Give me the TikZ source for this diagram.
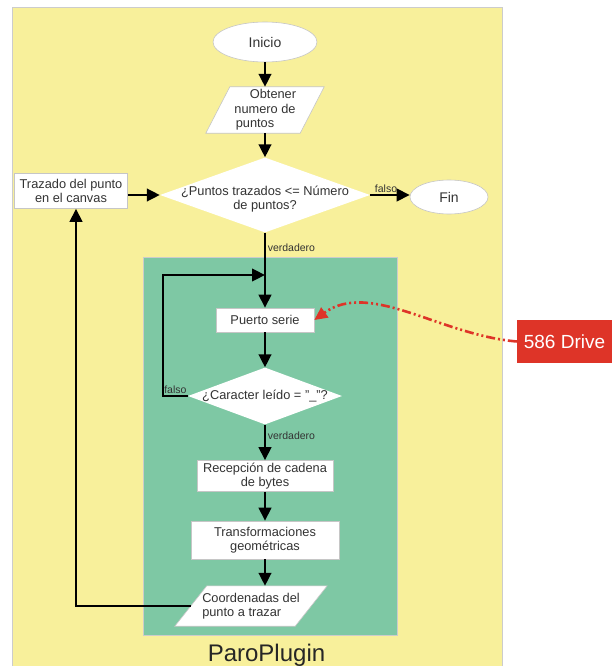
\documentclass[tikz,border=0pt]{standalone}
\usepackage{fontspec}
\setmainfont{Liberation Sans}
\usepackage{tikz}
\usetikzlibrary{arrows.meta,calc,positioning,shapes.geometric,backgrounds}
\definecolor{fondo}{RGB}{248,240,155}
\definecolor{verde}{RGB}{126,200,164}
\definecolor{rojo}{RGB}{222,52,40}
\definecolor{texto}{RGB}{51,51,51}
\tikzset{
    mytext/.style={text=texto,align=center,font=\fontsize{12.8}{14.4}\selectfont},
    mybox/.style={mytext,rectangle,draw=gray!45,line width=0.6pt,fill=white,inner sep=1pt},
    myterm/.style={mytext,ellipse,draw=gray!45,line width=0.6pt,fill=white,inner sep=0pt,
        font=\fontsize{14}{16}\selectfont},
    mydecision/.style={diamond,fill=white,inner sep=0pt},
    myio/.style={mytext,rectangle,inner sep=0pt},
    myfill/.style={draw=gray!45,line width=0.6pt,fill=white},
    myarrow/.style={line width=2.5pt,draw=black,-{Triangle[length=13pt,width=12.5pt]}},
    mylabel/.style={text=texto,inner sep=1.5pt,font=\fontsize{10.5}{12}\selectfont},
    mylink/.style={line width=2.6pt,draw=rojo,
        dash pattern=on 9pt off 3pt on 2pt off 3pt on 2pt off 3pt,
        -{Triangle[length=13pt,width=12pt]}}
}

\begin{document}
\begin{tikzpicture}[x=1pt,y=-1pt]
  \useasboundingbox (0,0) rectangle (612,666);

  % nodos del diagrama
  \node[myterm,minimum width=104pt,minimum height=40pt] (inicio) at (265,42) {Inicio};
  \node[myio,minimum width=94pt,minimum height=46pt] (obtener) at (265,110)
    {\hspace*{16pt}Obtener\\numero de\\puntos\hspace*{20pt}};
  \node[mydecision,minimum width=210pt,minimum height=75pt,
    label={[mytext,yshift=-4pt]center:{¿Puntos trazados <= Número\\de puntos?}}]
    (puntos) at (265,195) {};
  \node[mybox,minimum width=113pt,minimum height=35pt] (trazado) at (71,191)
    {Trazado del punto\\en el canvas};
  \node[myterm,minimum width=78pt,minimum height=34pt] (fin) at (449,197) {Fin};

  \node[mybox,minimum width=98pt,minimum height=24pt] (puerto) at (265,320) {Puerto serie};
  \node[mydecision,minimum width=154pt,minimum height=57pt,
    label={[mytext]center:{¿Caracter leído = "\_"?}}]
    (caracter) at (265,396) {};
  \node[mybox,minimum width=136pt,minimum height=31pt] (recepcion) at (265,476)
    {Recepción de cadena\\de bytes};
  \node[mybox,minimum width=148pt,minimum height=38pt] (transf) at (265,540)
    {Transformaciones\\geométricas};
  \node[myio,minimum width=120pt,minimum height=40pt,align=left] (coord) at (251,606)
    {Coordenadas del\\punto a trazar};

  \node[anchor=base,text=black!85,font=\fontsize{24}{28}\selectfont] (paro) at (266.5,661) {ParoPlugin};
  \node[fill=rojo,text=white,inner sep=0pt,minimum width=95pt,minimum height=43pt,
    font=\fontsize{19}{22}\selectfont] (drive) at (564.5,341.5) {586 Drive};

  % fondos y paralelogramos
  \begin{scope}[on background layer]
    \draw[draw=gray!40,fill=fondo] (12,7) rectangle (502,667);
    \draw[draw=gray!40,fill=verde] (143,257) rectangle (397,635);
    \draw[myfill] ($(obtener.north west)+(12,0)$) -- ($(obtener.north east)+(12,0)$)
      -- ($(obtener.south east)+(-12,0)$) -- ($(obtener.south west)+(-12,0)$) -- cycle;
    \draw[myfill] ($(coord.north west)+(16,0)$) -- ($(coord.north east)+(16,0)$)
      -- ($(coord.south east)+(-16,0)$) -- ($(coord.south west)+(-16,0)$) -- cycle;
  \end{scope}

  % conexiones
  \draw[myarrow] (inicio) -- (obtener);
  \draw[myarrow] (obtener) -- (puntos);
  \draw[myarrow] (trazado.east |- puntos.west) -- (puntos.west);
  \draw[myarrow] (puntos.east) -- node[mylabel,above,pos=0.4] {falso} (puntos.east -| fin.west);
  \draw[myarrow] (puntos.south) -- node[mylabel,right,pos=0.2] {verdadero} (puerto.north);

  \coordinate (bucle) at (163,275);
  \draw[myarrow] (caracter.west) -- node[mylabel,above] {falso} (caracter.west -| bucle)
    -- (bucle) -- (bucle -| puerto.north);
  \draw[myarrow] (puerto) -- (caracter);
  \draw[myarrow] (caracter.south) -- node[mylabel,right,pos=0.32] {verdadero} (recepcion.north);
  \draw[myarrow] (recepcion) -- (transf);
  \draw[myarrow] (transf.south) -- (transf.south |- coord.north);

  \coordinate (retorno) at (76,606);
  \draw[myarrow] (coord.west) -- (retorno) -- (retorno |- trazado.south);

  % enlace con el driver
  \draw[mylink] (drive.west) .. controls (440,335) and (370,280) .. (puerto.east);
\end{tikzpicture}
\end{document}
